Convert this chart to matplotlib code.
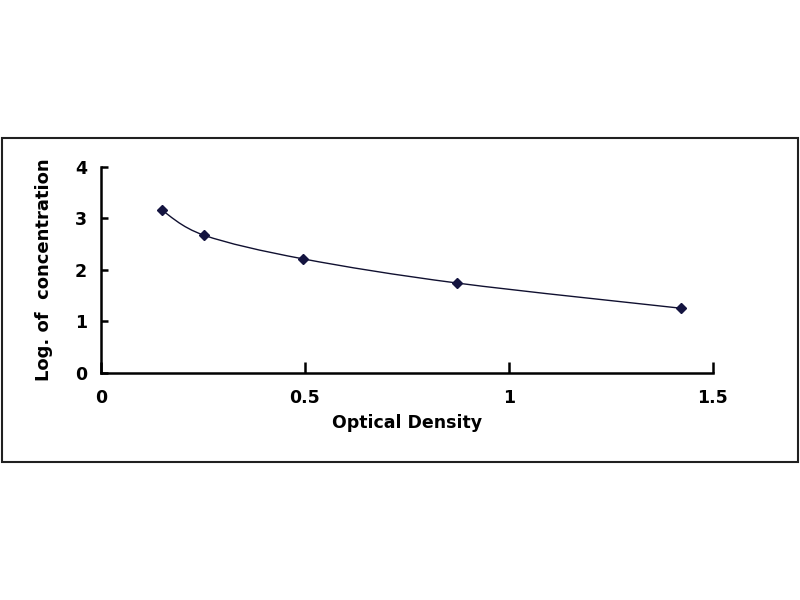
import matplotlib
matplotlib.use("Agg")
import matplotlib.pyplot as plt
import numpy as np
from matplotlib.path import Path
from matplotlib.patches import PathPatch, Rectangle

# standard curve points
optical_density = [0.149, 0.253, 0.496, 0.874, 1.423]
log_conc = [3.16, 2.67, 2.21, 1.74, 1.25]

x_ticks = [0, 0.5, 1, 1.5]
x_tick_labels = ["0", "0.5", "1", "1.5"]
y_ticks = [0, 1, 2, 3, 4]

plt.rcParams['font.family'] = ['DejaVu Sans']
plt.rcParams['font.weight'] = 'bold'

fig = plt.figure(figsize=(8, 6), dpi=100)
ax = fig.add_axes([0.126, 0.379, 0.765, 0.343])

# smoothed line like Excel: bezier segments with catmull-rom control points
pts = np.column_stack([optical_density, log_conc])
verts = [tuple(pts[0])]
codes = [Path.MOVETO]
n = len(pts)
for i in range(n - 1):
    p0 = pts[i - 1] if i > 0 else pts[i]
    p1 = pts[i]
    p2 = pts[i + 1]
    p3 = pts[i + 2] if i + 2 < n else pts[i + 1]
    c1 = p1 + (p2 - p0) / 6
    c2 = p2 - (p3 - p1) / 6
    verts += [tuple(c1), tuple(c2), tuple(p2)]
    codes += [Path.CURVE4] * 3
ax.add_patch(PathPatch(Path(verts, codes), facecolor='none',
                       edgecolor='#101030', linewidth=1.0))

ax.plot(optical_density, log_conc, linestyle='none', marker='D',
        markersize=5.5, color='#141440')

ax.set_xlim(0, 1.5)
ax.set_ylim(0, 4)
ax.set_xticks(x_ticks)
ax.set_xticklabels(x_tick_labels)
ax.set_yticks(y_ticks)

ax.spines['top'].set_visible(False)
ax.spines['right'].set_visible(False)
ax.spines['left'].set_linewidth(1.8)
ax.spines['bottom'].set_linewidth(1.8)
ax.tick_params(axis='x', direction='in', length=8, width=1.8, pad=12,
               labelsize=12.5)
ax.tick_params(axis='y', direction='in', length=5, width=1.8, pad=10,
               labelsize=12.5)

ax.set_xlabel('Optical Density', fontsize=12.5, fontweight='bold', labelpad=5)
ax.set_ylabel('Log. of  concentration', fontsize=13, fontweight='bold',
              labelpad=16)

# outer frame around the chart
fig.patches.append(Rectangle((0.003, 1 - 462 / 600), 0.994, 324 / 600,
                             transform=fig.transFigure, fill=False,
                             edgecolor='#202020', linewidth=1.5))

fig.savefig('out.png', dpi=100)
